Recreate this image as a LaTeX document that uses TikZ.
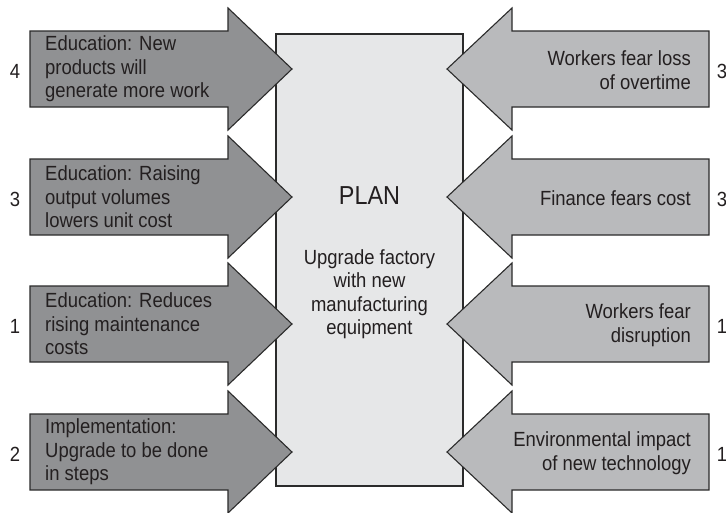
\documentclass[tikz,border=0pt]{standalone}
\usepackage{fontspec}
\setmainfont{Liberation Sans}[FakeStretch=0.9]
\definecolor{darkarrow}{HTML}{909193}
\definecolor{lightarrow}{HTML}{B9BABC}
\definecolor{planfill}{HTML}{E6E7E8}
\definecolor{ink}{HTML}{231F20}
\definecolor{edge}{HTML}{2B2B2B}
\begin{document}
\begin{tikzpicture}[x=1pt,y=-1pt,
  outline/.style={draw=edge, line width=1.1pt, line join=miter},
  planbox/.style={outline, fill=planfill, minimum width=187pt, minimum height=452pt, inner sep=0pt},
  txt/.style={text=ink, font=\fontsize{20.5}{23.5}\selectfont, inner sep=0pt},
  ltext/.style={txt, align=left, anchor=west},
  rtext/.style={txt, align=right, anchor=east},
  num/.style={txt},
  leftarrow/.pic={\path[outline, fill=darkarrow] (30,-38) -- (228,-38) -- (228,-61) -- (292,0) -- (228,61) -- (228,38) -- (30,38) -- cycle;},
  rightarrow/.pic={\path[outline, fill=lightarrow] (709,-38) -- (512,-38) -- (512,-61) -- (447,0) -- (512,61) -- (512,38) -- (709,38) -- cycle;}
]
\useasboundingbox (0,0) rectangle (726,512);
\fill[white] (0,0) rectangle (726,512);
\node[planbox] (plan) at (369.5,260) {};
% left arrows
\pic (la1) at (0,69) {leftarrow};
\pic (la2) at (0,197) {leftarrow};
\pic (la3) at (0,324) {leftarrow};
\pic (la4) at (0,452) {leftarrow};
% right arrows
\pic (ra1) at (0,69) {rightarrow};
\pic (ra2) at (0,197) {rightarrow};
\pic (ra3) at (0,324) {rightarrow};
\pic (ra4) at (0,452) {rightarrow};
% left texts
\node[ltext] (lt1) at (45,69) {Education: New\\products will\\generate more work};
\node[ltext] (lt2) at (45,197) {Education: Raising\\output volumes\\lowers unit cost};
\node[ltext] (lt3) at (45,324) {Education: Reduces\\rising maintenance\\costs};
\node[ltext] (lt4) at (45,452) {Implementation:\\Upgrade to be done\\in steps};
% right texts
\node[rtext] (rt1) at (691,70) {Workers fear loss\\of overtime};
\node[rtext] (rt2) at (691,198) {Finance fears cost};
\node[rtext] (rt3) at (691,325) {Workers fear\\disruption};
\node[rtext] (rt4) at (691,453) {Environmental impact\\of new technology};
% numbers
\node[num] (ln1) at (15,71) {4};
\node[num] (ln2) at (15,199) {3};
\node[num] (ln3) at (15,326) {1};
\node[num] (ln4) at (15,454) {2};
\node[num] (rn1) at (722,71) {3};
\node[num] (rn2) at (722,199) {3};
\node[num] (rn3) at (722,326) {1};
\node[num] (rn4) at (722,454) {1};
% plan texts
\node[txt, font=\fontsize{26}{30}\selectfont] (plantitle) at (369.5,196) {PLAN};
\node[txt, align=center] (plandesc) at (369.5,294) {Upgrade factory\\with new\\manufacturing\\equipment};
\end{tikzpicture}
\end{document}
